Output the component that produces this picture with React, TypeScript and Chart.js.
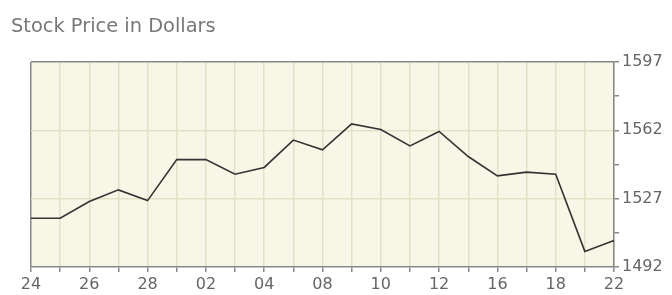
import React, { useEffect, useRef } from "react";
import { Chart, registerables } from "chart.js";

Chart.register(...registerables);

const TITLE = "Stock Price in Dollars";
const categories = ["24", "25", "26", "27", "28", "01", "02", "03", "04", "05", "08", "09", "10", "11", "12", "15", "16", "17", "18", "19", "22"];
const prices = [1517, 1517, 1525.5, 1531.5, 1526, 1547, 1547, 1539.5, 1543, 1557, 1552, 1565.3, 1562.4, 1554, 1561.4, 1548.6, 1538.7, 1540.6, 1539.5, 1500, 1505.6];
const yMin = 1492;
const yMax = 1597;
const yMinorStep = 17.5;
const yMajorStep = 35;

const PLOT_BG = "#F7F6E7";
const GRID = "#E4E1C6";
const AXIS = "#888888";
const TEXT = "#666666";

export default function App() {
  const ref = useRef<HTMLCanvasElement>(null);
  useEffect(() => {
    document.body.style.margin = "0";
    const canvas = ref.current!;
    const bgPlugin = {
      id: "bg",
      beforeDraw(chart: any) {
        const { ctx, chartArea: a } = chart;
        ctx.save();
        ctx.fillStyle = PLOT_BG;
        ctx.fillRect(a.left, a.top, a.right - a.left, a.bottom - a.top);
        ctx.restore();
      },
      afterDraw(chart: any) {
        const { ctx } = chart;
        ctx.save();
        ctx.font = '19.4px "DejaVu Sans"';
        ctx.fillStyle = "#777777";
        ctx.textBaseline = "alphabetic";
        ctx.textAlign = "left";
        ctx.fillText(TITLE, 11, 32);
        ctx.restore();
      },
    };
    const isMajor = (v: number) => Math.abs(((v - yMin) % yMajorStep)) < 1e-6;
    const chart = new Chart(canvas, {
      type: "line",
      data: {
        labels: categories,
        datasets: [
          {
            data: prices,
            borderColor: "#333333",
            borderWidth: 1.6,
            pointRadius: 0,
            tension: 0,
            fill: false,
          },
        ],
      },
      plugins: [bgPlugin],
      options: {
        animation: false,
        responsive: false,
        layout: { padding: { left: 31, top: 62, right: 0, bottom: 0 } },
        plugins: { legend: { display: false }, tooltip: { enabled: false }, title: { display: false } },
        scales: {
          x: {
            offset: false,
            afterFit(scale: any) {
              scale.height = 28;
            },
            grid: {
              color: (ctx: any) => (ctx.index === 0 ? AXIS : GRID),
              tickColor: AXIS,
              tickLength: 5,
              lineWidth: 1.5,
              drawOnChartArea: true,
            },
            border: { color: AXIS, width: 1.5 },
            ticks: {
              autoSkip: false,
              maxRotation: 0,
              padding: 3,
              color: TEXT,
              font: { family: "DejaVu Sans", size: 16 },
              callback: (_v: any, i: number) => (i % 2 === 0 ? categories[i] : ""),
            },
          },
          y: {
            position: "right",
            min: yMin,
            max: yMax,
            afterFit(scale: any) {
              scale.width = 58;
            },
            afterBuildTicks(scale: any) {
              const t = [];
              for (let v = yMin; v <= yMax + 1e-6; v += yMinorStep) t.push({ value: v });
              scale.ticks = t;
            },
            grid: {
              color: (ctx: any) => {
                const v = ctx.tick ? ctx.tick.value : 0;
                if (Math.abs(v - yMax) < 1e-6) return AXIS;
                if (Math.abs(v - yMin) < 1e-6) return "rgba(0,0,0,0)";
                return isMajor(v) ? GRID : "rgba(0,0,0,0)";
              },
              tickColor: AXIS,
              tickLength: 5,
              lineWidth: 1.5,
            },
            border: { color: AXIS, width: 1.5 },
            ticks: {
              padding: 3,
              color: TEXT,
              font: { family: "DejaVu Sans", size: 16 },
              callback: (v: any) => (isMajor(Number(v)) ? String(v) : ""),
            },
          },
        },
      },
    });
    return () => chart.destroy();
  }, []);
  return (
    <div style={{ width: 672, height: 295 }}>
      <canvas ref={ref} width={672} height={295} />
    </div>
  );
}
